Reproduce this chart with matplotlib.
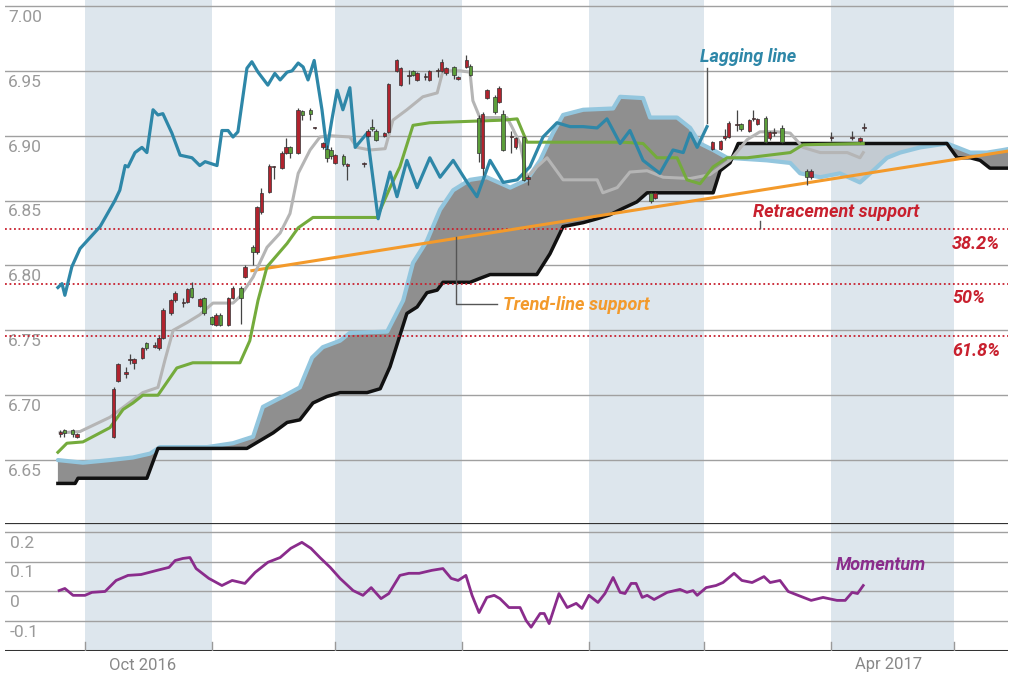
import matplotlib
matplotlib.use("Agg")
import matplotlib.pyplot as plt
import numpy as np

plt.rcParams['font.family'] = ['Roboto', 'DejaVu Sans']

# x values are days since 1 Oct 2016
# Lagging line
lag_day = [-6.6, -5.6, -4.9, -3.2, -1.2, 3.7, 7.3, 8.5, 9.8, 10.5, 12.2, 13.9, 15.1, 16.6, 17.8, 19.0,
           21.2, 23.2, 26.1, 28.0, 29.3, 32.2, 33.4, 34.9, 36.1, 37.3, 39.5, 40.7, 42.2, 44.6, 46.3, 47.6,
           49.3, 50.5, 52.0, 53.2, 54.4, 55.9, 57.8, 59.0, 60.2, 61.5, 62.9, 64.6, 65.9, 68.8, 71.5, 74.4,
           76.1, 78.5, 81.0, 84.1, 86.6, 89.8, 93.2, 95.6, 98.8, 102.0, 105.4, 108.5, 111.7, 115.1, 118.3,
           121.5, 124.9, 127.3, 130.5, 132.9, 136.1, 140.2, 143.4, 145.9, 147.6, 149.3, 151.7]
lag_val = [6.783, 6.786, 6.777, 6.799, 6.813, 6.830, 6.850, 6.858, 6.877, 6.876, 6.887, 6.891, 6.887, 6.920,
           6.916, 6.917, 6.902, 6.885, 6.883, 6.877, 6.880, 6.877, 6.904, 6.904, 6.899, 6.903, 6.952, 6.957,
           6.949, 6.939, 6.948, 6.943, 6.949, 6.950, 6.956, 6.953, 6.943, 6.958, 6.920, 6.889, 6.912, 6.935,
           6.920, 6.937, 6.891, 6.902, 6.836, 6.872, 6.853, 6.881, 6.860, 6.883, 6.868, 6.881, 6.864, 6.853,
           6.881, 6.864, 6.866, 6.876, 6.899, 6.910, 6.907, 6.907, 6.906, 6.913, 6.894, 6.904, 6.881, 6.871,
           6.889, 6.887, 6.902, 6.891, 6.907]

# Conversion line (grey)
conv_day = [-6.1, -1.2, 6.1, 14.1, 17.8, 19.5, 21.5, 24.9, 28.0, 31.2, 36.1, 37.8, 41.0, 44.4, 47.6, 50.0,
            52.0, 54.9, 57.3, 59.8, 64.6, 66.3, 69.5, 73.2, 75.1, 78.5, 82.4, 85.9, 87.3, 91.5, 93.9, 94.6,
            96.3, 102.9, 104.1, 106.1, 107.8, 110.2, 112.7, 116.6, 124.9, 126.3, 129.8, 132.9, 137.1, 141.0,
            147.6, 152.4, 157.3, 161.5, 164.6, 168.8, 172.0, 175.1, 179.3, 185.9, 189.0, 189.8]
conv_val = [6.671, 6.672, 6.683, 6.702, 6.706, 6.727, 6.750, 6.756, 6.762, 6.771, 6.771, 6.776, 6.791, 6.814,
            6.825, 6.840, 6.871, 6.889, 6.899, 6.900, 6.899, 6.891, 6.889, 6.890, 6.912, 6.920, 6.930, 6.933,
            6.950, 6.950, 6.949, 6.927, 6.914, 6.914, 6.907, 6.894, 6.868, 6.876, 6.883, 6.866, 6.866, 6.856,
            6.860, 6.872, 6.873, 6.868, 6.867, 6.870, 6.881, 6.897, 6.903, 6.903, 6.902, 6.891, 6.887, 6.887,
            6.883, 6.887]

# Base line (green)
base_day = [-6.6, -4.4, -0.5, 6.1, 9.3, 11.7, 14.1, 17.8, 22.4, 26.3, 37.8, 40.2, 42.2, 44.4, 49.3, 52.0,
            55.6, 71.2, 74.4, 76.8, 80.0, 84.1, 102.0, 105.4, 107.8, 131.2, 136.1, 139.5, 144.4, 146.8, 150.0,
            153.2, 156.6, 161.5, 172.0, 175.1, 189.8]
base_val = [6.656, 6.663, 6.664, 6.675, 6.689, 6.694, 6.700, 6.700, 6.721, 6.725, 6.725, 6.742, 6.773, 6.799,
            6.817, 6.829, 6.837, 6.837, 6.860, 6.876, 6.908, 6.910, 6.912, 6.913, 6.895, 6.895, 6.894, 6.883,
            6.883, 6.866, 6.863, 6.876, 6.883, 6.883, 6.887, 6.893, 6.894]

# Leading span A (cloud edge, light blue)
spana_day = [-6.6, -0.5, 6.1, 11.7, 15.9, 18.3, 29.8, 36.1, 41.0, 43.4, 48.3, 52.4, 55.4, 58.0, 62.2, 64.6,
             73.7, 77.6, 80.0, 83.4, 86.6, 89.8, 93.9, 98.0, 103.7, 107.8, 111.0, 114.1, 116.6, 121.5, 128.8,
             130.5, 136.1, 137.8, 144.4, 147.6, 150.0, 153.2, 156.6, 166.3, 172.0, 174.4, 179.3, 184.1, 189.0,
             192.2, 195.6, 198.8, 203.7, 210.2, 212.7, 215.9, 220.0, 223.9, 225.6]
spana_val = [6.650, 6.648, 6.650, 6.652, 6.655, 6.660, 6.660, 6.663, 6.668, 6.691, 6.699, 6.706, 6.729, 6.737,
             6.742, 6.748, 6.749, 6.773, 6.802, 6.819, 6.843, 6.858, 6.866, 6.868, 6.860, 6.866, 6.881, 6.902,
             6.916, 6.920, 6.921, 6.930, 6.929, 6.914, 6.914, 6.906, 6.894, 6.889, 6.883, 6.881, 6.879, 6.871,
             6.868, 6.871, 6.864, 6.873, 6.883, 6.887, 6.891, 6.894, 6.891, 6.887, 6.887, 6.889, 6.890]

# Leading span B (black)
spanb_day = [-6.6, -2.4, -1.7, 15.1, 17.8, 39.5, 42.7, 45.9, 49.3, 52.4, 55.6, 59.0, 62.2, 68.8, 72.0, 74.4,
             78.5, 81.0, 83.4, 85.9, 87.3, 93.9, 96.3, 98.8, 110.2, 113.4, 116.6, 121.5, 124.9, 128.0, 131.2,
             134.6, 137.1, 153.2, 154.9, 157.3, 159.3, 210.2, 212.7, 215.9, 218.3, 220.7, 225.6]
spanb_val = [6.632, 6.632, 6.636, 6.636, 6.659, 6.659, 6.665, 6.671, 6.679, 6.681, 6.694, 6.699, 6.702, 6.702,
             6.705, 6.722, 6.763, 6.768, 6.779, 6.781, 6.787, 6.787, 6.790, 6.793, 6.793, 6.809, 6.830, 6.833,
             6.836, 6.839, 6.844, 6.849, 6.856, 6.856, 6.873, 6.879, 6.894, 6.894, 6.883, 6.883, 6.881, 6.875,
             6.875]

# Candles: day, open, close, high, low
c_day = [-6, -5, -3, -2, 7, 8, 10, 11, 12, 14, 15, 17, 18, 19, 21, 22, 24, 25, 26, 28, 29, 31, 32, 33, 35, 36,
         38, 39, 41, 42, 43, 45, 46, 48, 49, 50, 52, 53, 55, 56, 58, 59, 60, 61, 63, 64, 68, 69, 70, 71, 73, 74,
         76, 77, 79, 80, 81, 83, 84, 86, 87, 88, 90, 91, 93, 94, 96, 97, 98, 100, 101, 102, 104, 105, 107, 108,
         138, 139, 153, 155, 156, 157, 159, 160, 162, 163, 164, 166, 167, 168, 170, 176, 177, 182, 187, 189, 190]
c_open = [6.670, 6.673, 6.673, 6.668, 6.668, 6.711, 6.716, 6.727, 6.725, 6.729, 6.740, 6.737, 6.736, 6.744,
          6.763, 6.773, 6.771, 6.772, 6.783, 6.769, 6.775, 6.760, 6.754, 6.762, 6.754, 6.775, 6.783, 6.791,
          6.814, 6.810, 6.841, 6.857, 6.876, 6.875, 6.887, 6.891, 6.887, 6.919, 6.920, 6.906, 6.891, 6.890,
          6.889, 6.879, 6.884, 6.877, 6.878, 6.900, 6.907, 6.904, 6.900, 6.903, 6.950, 6.939, 6.946, 6.950,
          6.943, 6.945, 6.943, 6.950, 6.950, 6.948, 6.953, 6.944, 6.953, 6.954, 6.914, 6.875, 6.929, 6.930,
          6.926, 6.917, 6.899, 6.891, 6.899, 6.867, 6.856, 6.852, 6.890, 6.890, 6.898, 6.899, 6.908, 6.909,
          6.904, 6.913, 6.909, 6.914, 6.898, 6.902, 6.906, 6.873, 6.868, 6.898, 6.898, 6.896, 6.906]
c_close = [6.672, 6.671, 6.670, 6.670, 6.705, 6.724, 6.718, 6.727, 6.728, 6.736, 6.736, 6.739, 6.744, 6.766,
           6.773, 6.779, 6.772, 6.782, 6.776, 6.774, 6.763, 6.755, 6.762, 6.754, 6.775, 6.783, 6.775, 6.799,
           6.810, 6.845, 6.856, 6.877, 6.876, 6.887, 6.891, 6.887, 6.920, 6.916, 6.917, 6.906, 6.894, 6.883,
           6.884, 6.885, 6.878, 6.878, 6.878, 6.904, 6.905, 6.897, 6.902, 6.940, 6.958, 6.952, 6.946, 6.947,
           6.948, 6.945, 6.950, 6.950, 6.957, 6.952, 6.947, 6.945, 6.958, 6.947, 6.887, 6.917, 6.935, 6.918,
           6.937, 6.889, 6.899, 6.898, 6.866, 6.868, 6.850, 6.856, 6.895, 6.896, 6.900, 6.910, 6.908, 6.905,
           6.912, 6.913, 6.913, 6.895, 6.903, 6.902, 6.895, 6.868, 6.873, 6.898, 6.898, 6.898, 6.906]
c_high = [6.673, 6.674, 6.674, 6.671, 6.706, 6.725, 6.722, 6.732, 6.729, 6.737, 6.741, 6.741, 6.746, 6.767,
          6.774, 6.780, 6.775, 6.783, 6.787, 6.775, 6.776, 6.761, 6.763, 6.763, 6.776, 6.784, 6.784, 6.800,
          6.816, 6.846, 6.860, 6.878, 6.877, 6.888, 6.898, 6.892, 6.921, 6.920, 6.921, 6.907, 6.895, 6.893,
          6.891, 6.886, 6.886, 6.879, 6.880, 6.905, 6.913, 6.905, 6.903, 6.941, 6.959, 6.953, 6.951, 6.951,
          6.949, 6.948, 6.951, 6.952, 6.959, 6.953, 6.954, 6.946, 6.962, 6.955, 6.916, 6.918, 6.936, 6.931,
          6.938, 6.920, 6.904, 6.899, 6.900, 6.870, 6.857, 6.857, 6.896, 6.897, 6.905, 6.911, 6.920, 6.910,
          6.913, 6.920, 6.914, 6.915, 6.904, 6.906, 6.908, 6.874, 6.874, 6.903, 6.904, 6.899, 6.910]
c_low = [6.668, 6.668, 6.668, 6.667, 6.667, 6.710, 6.713, 6.724, 6.720, 6.728, 6.735, 6.736, 6.735, 6.743,
         6.762, 6.772, 6.768, 6.771, 6.775, 6.768, 6.762, 6.754, 6.753, 6.753, 6.753, 6.774, 6.755, 6.790,
         6.800, 6.809, 6.840, 6.856, 6.867, 6.874, 6.886, 6.883, 6.886, 6.912, 6.912, 6.905, 6.890, 6.880,
         6.882, 6.878, 6.877, 6.866, 6.876, 6.899, 6.904, 6.896, 6.899, 6.902, 6.949, 6.938, 6.940, 6.946,
         6.942, 6.943, 6.942, 6.945, 6.949, 6.947, 6.944, 6.943, 6.952, 6.946, 6.880, 6.870, 6.928, 6.917,
         6.925, 6.888, 6.887, 6.890, 6.865, 6.862, 6.848, 6.851, 6.889, 6.889, 6.897, 6.898, 6.904, 6.904,
         6.903, 6.911, 6.908, 6.894, 6.897, 6.900, 6.894, 6.862, 6.867, 6.896, 6.897, 6.895, 6.904]

# Momentum
mom_day = [-6.3, -4.9, -2.9, 0.0, 1.7, 4.9, 7.6, 10.5, 13.7, 17.6, 20.5, 22.0, 23.9, 25.6, 27.1, 30.2, 33.4,
           35.9, 39.0, 41.5, 44.6, 47.6, 50.2, 52.9, 55.1, 57.3, 59.8, 62.2, 65.4, 67.8, 69.8, 72.2, 74.1,
           76.8, 79.0, 81.5, 84.6, 87.3, 89.3, 91.0, 92.9, 94.4, 96.1, 98.0, 99.8, 101.2, 103.4, 106.1, 107.6,
           108.8, 111.0, 112.0, 113.2, 115.6, 117.6, 119.8, 121.2, 122.9, 125.1, 126.8, 128.8, 130.5, 131.7,
           133.2, 134.4, 135.9, 137.1, 138.8, 142.0, 145.1, 146.8, 148.3, 149.3, 151.5, 153.9, 155.6, 158.3,
           160.2, 162.7, 165.6, 167.1, 169.5, 171.5, 173.9, 177.1, 180.0, 183.4, 185.4, 187.1, 188.4, 189.8]
mom_val = [0.003, 0.010, -0.013, -0.013, -0.003, 0.000, 0.037, 0.054, 0.057, 0.071, 0.081, 0.104, 0.111, 0.114,
           0.077, 0.044, 0.020, 0.037, 0.027, 0.064, 0.098, 0.114, 0.145, 0.165, 0.145, 0.114, 0.081, 0.044,
           0.003, -0.013, 0.013, -0.024, -0.007, 0.054, 0.061, 0.061, 0.071, 0.077, 0.044, 0.037, 0.054,
           -0.013, -0.071, -0.020, -0.013, -0.024, -0.054, -0.054, -0.098, -0.120, -0.074, -0.074, -0.108,
           -0.007, -0.054, -0.040, -0.057, -0.013, -0.037, -0.007, 0.047, -0.003, -0.007, 0.027, 0.027, -0.020,
           -0.013, -0.027, -0.003, 0.007, -0.003, 0.003, -0.013, 0.013, 0.020, 0.030, 0.061, 0.037, 0.030,
           0.050, 0.030, 0.037, 0.000, -0.013, -0.030, -0.020, -0.030, -0.030, -0.003, -0.007, 0.020]

trend_day = [40.7, 226.8]
trend_val = [6.796, 6.889]
retr_levels = [6.828, 6.786, 6.7455]
retr_labels = ["38.2%", "50%", "61.8%"]

month_start = [0, 31, 61, 92, 123, 151, 182, 212]
shaded = [(0, 31), (61, 92), (123, 151), (182, 212)]
month_label_day = [14, 196]
month_labels = ["Oct 2016", "Apr 2017"]

fig = plt.figure(figsize=(10.2, 6.8), dpi=100)
ax = fig.add_axes([5 / 1020, 1 - 523 / 680, 1003 / 1020, 523 / 680])
axm = fig.add_axes([5 / 1020, 1 - 651 / 680, 1003 / 1020, 128 / 680])
xlim = (-19.5, 225.1)

for a in (ax, axm):
    a.set_xlim(*xlim)
    for s in a.spines.values():
        s.set_visible(False)
    a.set_xticks([])
    a.set_yticks([])
    for lo, hi in shaded:
        a.axvspan(lo, hi, color='#dde6ed', lw=0, zorder=0)

ax.set_ylim(6.6015, 7.0046)
for v in np.arange(6.65, 7.001, 0.05):
    ax.axhline(v, color='#a0a0a0', lw=1, zorder=1)
    ax.text(0.003, v - 0.003, f"{v:.2f}", transform=ax.get_yaxis_transform(),
            ha='left', va='top', color='#9a9a9a', fontsize=12.5)

# cloud
grid = np.union1d(spana_day, spanb_day)
ga = np.interp(grid, spana_day, spana_val)
gb = np.interp(grid, spanb_day, spanb_val)
ax.fill_between(grid, ga, gb, where=ga >= gb, interpolate=True, color='#8f8f8f', lw=0, zorder=2)
ax.fill_between(grid, ga, gb, where=ga < gb, interpolate=True, color='#c3cbd2', lw=0, zorder=2)
ax.plot(spana_day, spana_val, color='#93c6de', lw=3, zorder=3, solid_capstyle='round')
ax.plot(spanb_day, spanb_val, color='#111111', lw=2.5, zorder=3)

for lv in retr_levels:
    ax.axhline(lv, color='#c8202e', lw=1.3, ls=(0, (1, 1.5)), zorder=3)

ax.plot(trend_day, trend_val, color='#f39a2b', lw=2.2, zorder=4)
ax.plot(conv_day, conv_val, color='#b5b5b5', lw=2.2, zorder=4)
ax.plot(base_day, base_val, color='#74ab3c', lw=2.2, zorder=4)
ax.plot(lag_day, lag_val, color='#2e87a8', lw=2.3, zorder=5)

# candles
o = np.array(c_open)
c = np.array(c_close)
colors = np.where(c >= o, '#b0232e', '#5c9e3a')
ax.vlines(c_day, c_low, c_high, color='#444444', lw=0.9, zorder=6)
ax.bar(c_day, np.maximum(np.abs(c - o), 0.0008), bottom=np.minimum(o, c), width=0.85,
       color=colors, edgecolor='#333333', linewidth=0.5, zorder=7)

# annotations
kw = dict(fontsize=13, fontstyle='italic', fontweight='bold')
ax.text(150, 6.961, "Lagging line", color='#2e87a8', ha='left', va='center', **kw)
ax.plot([151.7, 151.7], [6.952, 6.910], color='#555555', lw=1, zorder=5)
ax.text(163, 6.841, "Retracement support", color='#c8202e', ha='left', va='center', **kw)
ax.plot([164.6, 164.6], [6.834, 6.829], color='#555555', lw=1, zorder=5)
ax.text(102, 6.7695, "Trend-line support", color='#f39a2b', ha='left', va='center', **kw)
ax.plot([90.5, 90.5, 100.5], [6.822, 6.7705, 6.7705], color='#555555', lw=1, zorder=5)
for lv, lab in zip(retr_levels, retr_labels):
    ax.text(211.5, lv - 0.0045, lab, color='#c8202e', ha='left', va='top', **kw)

# momentum panel
axm.set_ylim(-0.2, 0.23)
for v in [0.2, 0.1, 0.0, -0.1]:
    axm.axhline(v, color='#a0a0a0', lw=1, zorder=1)
    lab = "0" if v == 0 else f"{v:.1f}"
    axm.text(0.005, v - 0.012, lab, transform=axm.get_yaxis_transform(),
             ha='left', va='top', color='#9a9a9a', fontsize=12.5)
axm.axhline(0.23, color='#333333', lw=1.6, zorder=3)
axm.axhline(-0.2, color='#333333', lw=2.2, zorder=3)
axm.plot(mom_day, mom_val, color='#8a2c8c', lw=2, zorder=4)
axm.text(183, 0.09, "Momentum", color='#8a2c8c', ha='left', va='center', **kw)
for d in month_start:
    axm.plot([d, d], [-0.2, -0.17], color='#999999', lw=1, zorder=3)
for d, lab in zip(month_label_day, month_labels):
    fig.text((5 + (d - xlim[0]) / (xlim[1] - xlim[0]) * 1003) / 1020, 1 - 665 / 680, lab,
             ha='center', va='center', color='#888888', fontsize=12)

fig.savefig("out.png", dpi=100)
